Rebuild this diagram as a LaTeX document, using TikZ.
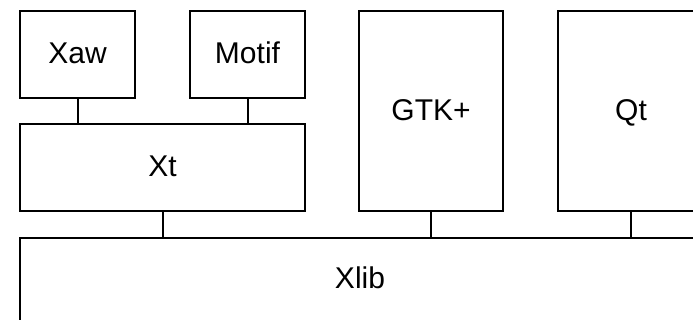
\documentclass[tikz,border=0pt]{standalone}
\usepackage{fontspec}
\setmainfont{Liberation Sans}
\begin{document}
\begin{tikzpicture}[x=1pt,y=-1pt,
  txt/.style={font=\fontsize{30}{36}\selectfont,text height=21.5pt,text depth=3pt},
  box/.style={draw=black,line width=2pt,fill=white,inner sep=0pt,txt},
  link/.style={draw=black,line width=2pt}]
\useasboundingbox (0,0) rectangle (693,320);
\node[box,minimum width=115,minimum height=87] (xaw) at (77.5,54.5) {Xaw};
\node[box,minimum width=115,minimum height=87] (motif) at (247.5,54.5) {Motif};
\node[box,minimum width=285,minimum height=87] (xt) at (162.5,167.5) {Xt};
\node[box,minimum width=144,minimum height=200] (gtk) at (431,111) {GTK+};
\node[box,minimum width=146,minimum height=200] (qt) at (631,111) {Qt};
\node[box,minimum width=680,minimum height=100] (xlib) at (360,288) {};
\node[txt,inner sep=0pt] (xlibtext) at (360,279.5) {Xlib};
\draw[link] (xaw.south) -- (xt.north -| xaw.south);
\draw[link] (motif.south) -- (xt.north -| motif.south);
\draw[link] (xt.south) -- (xlib.north -| xt.south);
\draw[link] (gtk.south) -- (xlib.north -| gtk.south);
\draw[link] (qt.south) -- (xlib.north -| qt.south);
\end{tikzpicture}
\end{document}
